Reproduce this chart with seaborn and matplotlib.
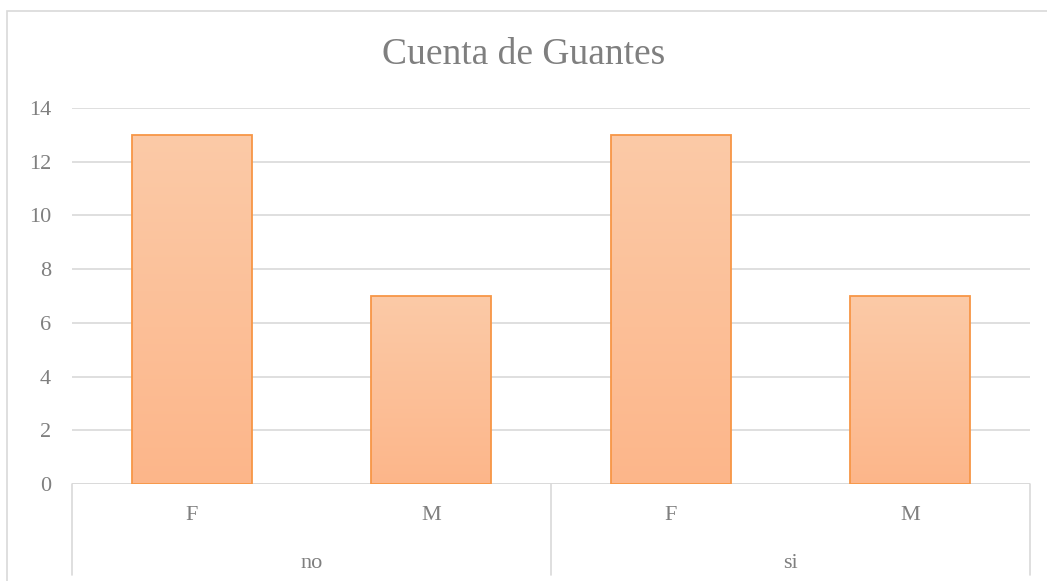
import numpy as np
import pandas as pd
import seaborn as sns
import matplotlib.pyplot as plt
from matplotlib.colors import LinearSegmentedColormap
from matplotlib.patches import Rectangle

groups = ['no', 'no', 'si', 'si']
sexo = ['F', 'M', 'F', 'M']
cuenta = [13, 7, 13, 7]

data = pd.DataFrame({'grupo': groups, 'sexo': sexo, 'cuenta': cuenta})
data['cat'] = data['grupo'] + '_' + data['sexo']

sns.set_style('white')
plt.rcParams['font.family'] = ['Liberation Serif', 'DejaVu Serif']
gray = '#7f7f7f'
grid = '#d9d9d9'

W, H = 1047, 581
fig = plt.figure(figsize=(W / 100, H / 100), dpi=100)
x0, x1, ytop, ybot = 72, 1030, 108, 484
ax = fig.add_axes([x0 / W, (H - ybot) / H, (x1 - x0) / W, (ybot - ytop) / H])

sns.barplot(x='cat', y='cuenta', data=data, ax=ax, width=0.5,
            color='#fdb88c', edgecolor='#f79646', linewidth=1.3, zorder=3)

# gradiente tipo Excel
cmap = LinearSegmentedColormap.from_list('g', ['#fdb68a', '#fbcaa7'])
grad = np.linspace(0, 1, 256).reshape(-1, 1)
for p in ax.patches:
    bx, by = p.get_x(), p.get_y()
    bw, bh = p.get_width(), p.get_height()
    im = ax.imshow(grad, cmap=cmap, origin='lower', aspect='auto',
                   extent=(bx, bx + bw, by, by + bh), zorder=2.9)
    im.set_clip_path(p)
    p.set_facecolor('none')

ax.set_xlim(-0.5, 3.5)
ax.set_ylim(0, 14)
ax.set_yticks(range(0, 15, 2))
ax.yaxis.grid(True, color=grid, linewidth=1.2, zorder=0)
ax.set_axisbelow(True)
for s in ax.spines.values():
    s.set_visible(False)
ax.axhline(0, color=grid, linewidth=1.2, zorder=1)
ax.tick_params(axis='y', length=0, labelsize=16, labelcolor=gray, pad=15)
ax.set_xticks([])
ax.set_xlabel('')
ax.set_ylabel('')

# eje de categorias en dos niveles
trans = ax.get_xaxis_transform()
sep_bottom = -(575 - ybot) / (ybot - ytop)
for xs in [-0.5, 1.5, 3.5]:
    ax.plot([xs, xs], [0, sep_bottom], transform=trans, color=grid,
            linewidth=1.2, clip_on=False)
y_sexo = -(516 - ybot) / (ybot - ytop)
y_grupo = -(564 - ybot) / (ybot - ytop)
for i, s in enumerate(sexo):
    ax.text(i, y_sexo, s, transform=trans, ha='center', va='center',
            fontsize=16, color=gray)
for i, g in enumerate(['no', 'si']):
    ax.text(2 * i + 0.5, y_grupo, g, transform=trans, ha='center',
            va='center', fontsize=16, color=gray)

fig.text(0.5, 1 - 55 / H, 'Cuenta de Guantes', ha='center', va='center',
         fontsize=27, color=gray)

# marco del grafico
fig.patches.append(Rectangle((7 / W, -0.1), 1.2, 1 - 11 / H + 0.1,
                             transform=fig.transFigure, fill=False,
                             edgecolor=grid, linewidth=1.2))

fig.savefig('out.png', dpi=100)
